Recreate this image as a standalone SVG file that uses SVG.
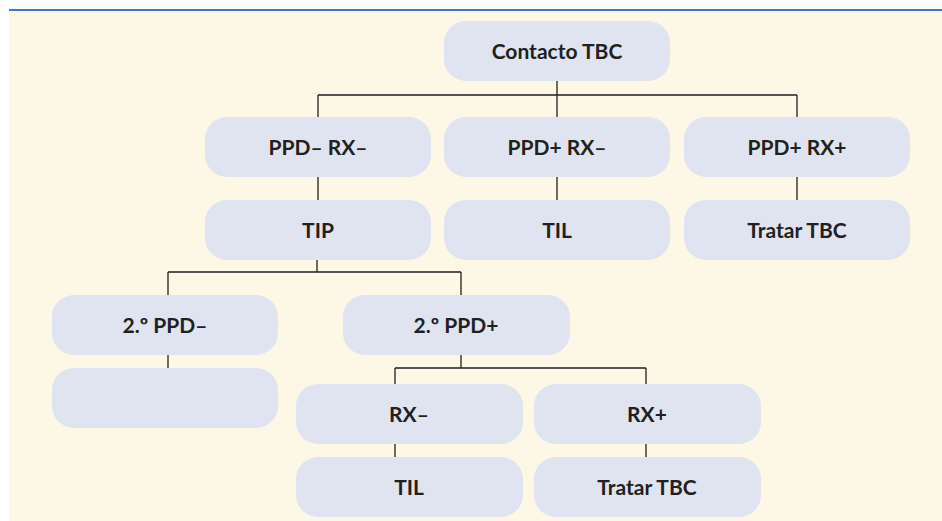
<svg xmlns="http://www.w3.org/2000/svg" width="942" height="521" viewBox="0 0 942 521">
<style>
.n{fill:#dfe4f0}
.t{font-family:Lato,"Open Sans","Liberation Sans",sans-serif;font-weight:700;font-size:21px;fill:#231f20;text-anchor:middle}
.c{stroke:#231f20;stroke-width:1.3;fill:none}
</style>
<rect x="0" y="0" width="942" height="521" fill="#ffffff"/>
<rect x="9" y="11" width="933" height="510" fill="#fdf7e6"/>
<rect x="9" y="9" width="933" height="2" fill="#3a7bbf"/>
<g id="connectors">
<path class="c" d="M557 81V95M318 95H797M318 95V117M557 95V117M797 95V117"/>
<path class="c" d="M318 177V200M557 177V200M797 177V200"/>
<path class="c" d="M317 260V272M168 272H461M168 272V295M461 272V295"/>
<path class="c" d="M168 355V368"/>
<path class="c" d="M461 355V368M395 368H646M395 368V384M646 368V384"/>
<path class="c" d="M395 444V457M646 444V457"/>
</g>
<g id="contacto"><rect class="n" x="444" y="21" width="226" height="60" rx="22"/><text class="t" x="557" y="59">Contacto TBC</text></g>
<g id="ppdneg_rxneg"><rect class="n" x="205" y="117" width="226" height="60" rx="22"/><text class="t" x="318" y="155">PPD– RX–</text></g>
<g id="ppdpos_rxneg"><rect class="n" x="444" y="117" width="226" height="60" rx="22"/><text class="t" x="557" y="155">PPD+ RX–</text></g>
<g id="ppdpos_rxpos"><rect class="n" x="684" y="117" width="226" height="60" rx="22"/><text class="t" x="797" y="155">PPD+ RX+</text></g>
<g id="tip"><rect class="n" x="205" y="200" width="226" height="60" rx="22"/><text class="t" x="318" y="238">TIP</text></g>
<g id="til1"><rect class="n" x="444" y="200" width="226" height="60" rx="22"/><text class="t" x="557" y="238">TIL</text></g>
<g id="tratar1"><rect class="n" x="684" y="200" width="226" height="60" rx="22"/><text class="t" x="797" y="238">Tratar TBC</text></g>
<g id="ppd2neg"><rect class="n" x="52" y="295" width="226" height="60" rx="22"/><text class="t" x="165" y="333">2.º PPD–</text></g>
<g id="empty"><rect class="n" x="52" y="368" width="226" height="60" rx="22"/></g>
<g id="ppd2pos"><rect class="n" x="343" y="295" width="227" height="60" rx="22"/><text class="t" x="456" y="333">2.º PPD+</text></g>
<g id="rxneg"><rect class="n" x="296" y="384" width="227" height="60" rx="22"/><text class="t" x="409" y="422">RX–</text></g>
<g id="rxpos"><rect class="n" x="534" y="384" width="227" height="60" rx="22"/><text class="t" x="647" y="422">RX+</text></g>
<g id="til2"><rect class="n" x="296" y="457" width="227" height="60" rx="22"/><text class="t" x="409" y="495">TIL</text></g>
<g id="tratar2"><rect class="n" x="534" y="457" width="227" height="60" rx="22"/><text class="t" x="647" y="495">Tratar TBC</text></g>
</svg>
